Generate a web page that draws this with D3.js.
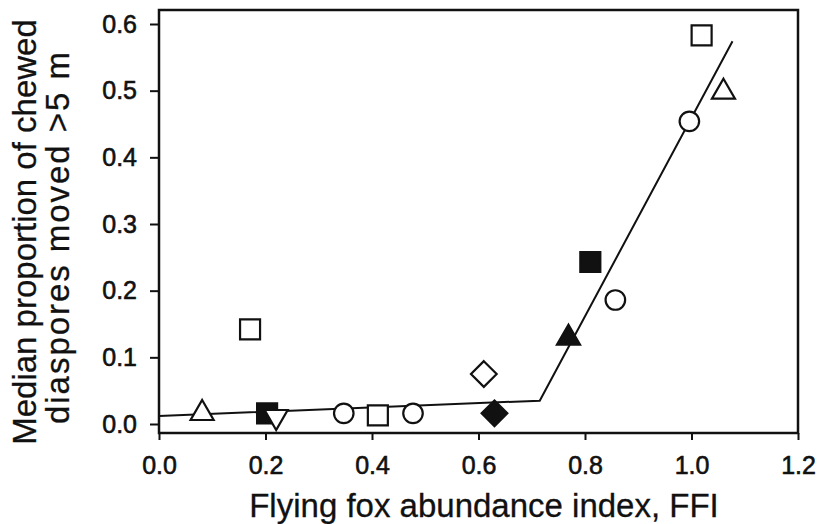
<!DOCTYPE html>
<html>
<head>
<meta charset="utf-8">
<script src="https://cdn.jsdelivr.net/npm/d3@7"></script>
<style>
  body { margin: 0; background: #fff; }
  #chart { width: 818px; height: 524px; }
  text { font-family: "Liberation Sans", Arial, sans-serif; fill: #111; }
</style>
</head>
<body>
<div id="chart"></div>
<script>
// Data
const ffi = [0.081, 0.171, 0.203, 0.220, 0.347, 0.411, 0.477, 0.610, 0.630, 0.769, 0.810, 0.857, 0.996, 1.060, 1.019];
const proportion = [0.016, 0.142, 0.016, 0.011, 0.016, 0.013, 0.016, 0.075, 0.016, 0.129, 0.243, 0.186, 0.454, 0.498, 0.583];
const shapes = ['triangle', 'square', 'square', 'triangleDown', 'circle', 'square', 'circle', 'diamond', 'diamond', 'triangle', 'square', 'circle', 'circle', 'triangle', 'square'];
const filled = [false, false, true, false, false, false, false, false, true, true, true, false, false, false, false];

// piecewise regression line
const fitX = [0, 0.715, 1.077];
const fitY = [0.012, 0.035, 0.574];

const xTicks = [0, 0.2, 0.4, 0.6, 0.8, 1.0, 1.2];
const yTicks = [0, 0.1, 0.2, 0.3, 0.4, 0.5, 0.6];

const margin = { top: 10, right: 20, bottom: 91, left: 159 };
const W = 818, H = 524;
const width = W - margin.left - margin.right;
const height = H - margin.top - margin.bottom;

const svg = d3.select('#chart')
    .append('svg')
    .attr('width', W)
    .attr('height', H);

const g = svg.append('g')
    .attr('transform', `translate(${margin.left},${margin.top})`);

const xScale = d3.scaleLinear().domain([0, 1.2]).range([0, width]);
const yScale = d3.scaleLinear().domain([-0.0135, 0.621]).range([height, 0]);

// Axes
g.append('g')
    .attr('transform', `translate(0,${height})`)
    .call(d3.axisBottom(xScale).tickValues(xTicks).tickFormat(d3.format('.1f')).tickSize(7).tickSizeOuter(0).tickPadding(16))
    .call(a => a.select('.domain').remove())
    .call(a => a.selectAll('.tick line').attr('stroke', '#111').attr('stroke-width', 2))
    .call(a => a.selectAll('.tick text').style('font-size', '25px').attr('font-family', null)
        .attr('stroke', '#111').attr('stroke-width', 0.6));

g.append('g')
    .call(d3.axisLeft(yScale).tickValues(yTicks).tickFormat(d3.format('.1f')).tickSize(9).tickSizeOuter(0).tickPadding(13))
    .call(a => a.select('.domain').remove())
    .call(a => a.selectAll('.tick line').attr('stroke', '#111').attr('stroke-width', 2))
    .call(a => a.selectAll('.tick text').style('font-size', '25px').attr('font-family', null)
        .attr('stroke', '#111').attr('stroke-width', 0.6));

// Frame
g.append('rect')
    .attr('x', 0).attr('y', 0)
    .attr('width', width).attr('height', height)
    .attr('fill', 'none')
    .attr('stroke', '#111')
    .attr('stroke-width', 2.5);

// Regression line
const fitData = fitX.map((x, i) => [x, fitY[i]]);
g.append('path')
    .datum(fitData)
    .attr('fill', 'none')
    .attr('stroke', '#111')
    .attr('stroke-width', 2)
    .attr('d', d3.line().x(d => xScale(d[0])).y(d => yScale(d[1])));

// Marker shapes
const diamondType = {
    draw(ctx, size) {
        const r = Math.sqrt(size / 2);
        ctx.moveTo(0, -r); ctx.lineTo(r, 0); ctx.lineTo(0, r); ctx.lineTo(-r, 0); ctx.closePath();
    }
};
const symbolFor = {
    square: { type: d3.symbolSquare, size: 400, rot: 0 },
    circle: { type: d3.symbolCircle, size: 300, rot: 0 },
    triangle: { type: d3.symbolTriangle, size: 230, rot: 0 },
    triangleDown: { type: d3.symbolTriangle, size: 230, rot: 180 },
    diamond: { type: diamondType, size: 330, rot: 0 }
};

const points = ffi.map((x, i) => ({ x, y: proportion[i], shape: shapes[i], filled: filled[i] }));

g.selectAll('.pt')
    .data(points)
    .enter()
    .append('path')
    .attr('class', 'pt')
    .attr('transform', d => `translate(${xScale(d.x)},${yScale(d.y)}) rotate(${symbolFor[d.shape].rot})`)
    .attr('d', d => d3.symbol().type(symbolFor[d.shape].type).size(symbolFor[d.shape].size)())
    .attr('fill', d => d.filled ? '#111' : '#fff')
    .attr('stroke', '#111')
    .attr('stroke-width', 2.2);

// Axis titles
svg.append('text')
    .attr('x', 484)
    .attr('y', 517)
    .attr('text-anchor', 'middle')
    .style('font-size', '33px')
    .attr('stroke', '#111').attr('stroke-width', 0.3)
    .text('Flying fox abundance index, FFI');

const yTitle = svg.append('text')
    .attr('transform', 'translate(36,232) rotate(-90)')
    .attr('text-anchor', 'middle')
    .attr('stroke', '#111').attr('stroke-width', 0.3)
    .style('font-size', '33px');
yTitle.append('tspan').attr('x', 0).attr('y', 0).text('Median proportion of chewed');
yTitle.append('tspan').attr('x', -6).attr('y', 33)
    .attr('textLength', 372).attr('lengthAdjust', 'spacing')
    .text('diaspores moved >5 m');
</script>
</body>
</html>
